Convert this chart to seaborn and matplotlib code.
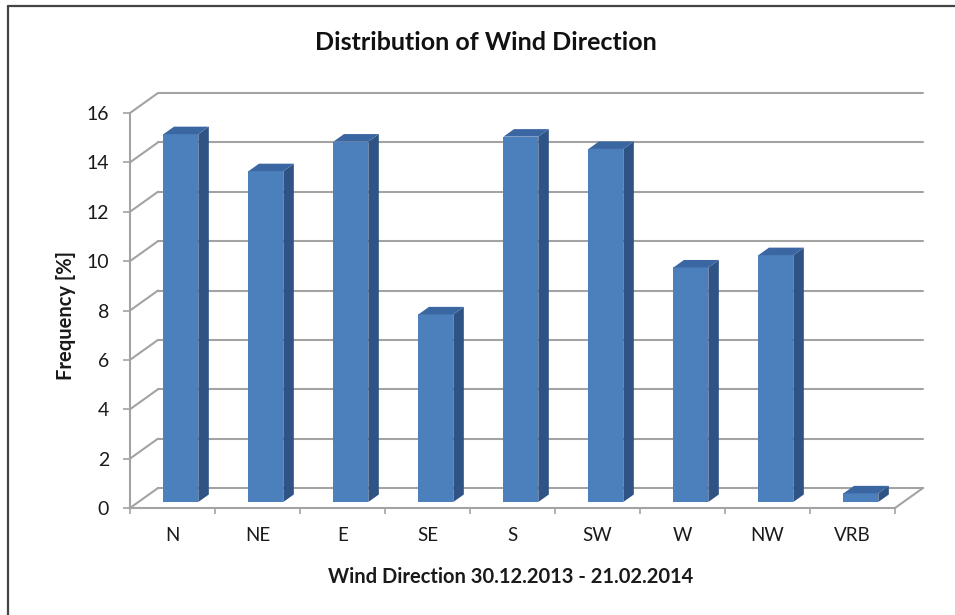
import matplotlib
matplotlib.use("Agg")
import matplotlib.pyplot as plt
import seaborn as sns
import pandas as pd
from matplotlib.patches import Polygon
from matplotlib.lines import Line2D

# ---- data ----
directions = ["N", "NE", "E", "SE", "S", "SW", "W", "NW", "VRB"]
frequency = [14.9, 13.4, 14.6, 7.6, 14.8, 14.3, 9.5, 10.0, 0.35]
y_ticks = [0, 2, 4, 6, 8, 10, 12, 14, 16]
title_text = "Distribution of Wind Direction"
x_label = "Wind Direction 30.12.2013 - 21.02.2014"
y_label = "Frequency [%]"

sns.set_theme(style="white")
plt.rcParams["font.family"] = ["Lato", "DejaVu Sans"]

W, H = 955, 615
fig = plt.figure(figsize=(W / 100, H / 100), dpi=100)
fig.patch.set_facecolor("white")

ax_l, ax_r, ax_b, ax_t = 130, 895, 508, 113  # pixel positions of front plane
ax = fig.add_axes([ax_l / W, (H - ax_b) / H, (ax_r - ax_l) / W, (ax_b - ax_t) / H])
ax.set_facecolor("none")

df = pd.DataFrame({"direction": directions, "frequency": frequency})
sns.barplot(data=df, x="direction", y="frequency", color="#4C80BD",
            saturation=1, width=0.41, ax=ax, zorder=3, linewidth=0)

ax.set_xlim(-0.5, len(directions) - 0.5)
ax.set_ylim(y_ticks[0], y_ticks[-1])

# pixel -> data conversions
px_x = (ax_r - ax_l) / len(directions)
px_y = (ax_b - ax_t) / (y_ticks[-1] - y_ticks[0])
dxb, dyb = 28 / px_x, 20 / px_y          # back wall depth
fx, fy = 0.3 * dxb, 0.3 * dyb           # bar front plane
ddx, ddy = 10.5 / px_x, 7.5 / px_y      # bar depth

grid_c = "#a3a3a3"
x0a, x1a = -0.5, len(directions) - 0.5

# back wall gridlines + left wall diagonals
for v in y_ticks:
    ax.add_line(Line2D([x0a + dxb, x1a + dxb], [v + dyb, v + dyb], color=grid_c,
                       lw=1.5, zorder=1, clip_on=False))
    ax.add_line(Line2D([x0a, x0a + dxb], [v, v + dyb], color=grid_c,
                       lw=1.5, zorder=1, clip_on=False))
# floor right edge
ax.add_line(Line2D([x1a, x1a + dxb], [0, dyb], color=grid_c, lw=1.5, zorder=1, clip_on=False))

# 3D bars
side_c, top_c = "#2E5384", "#3A66A2"
for p in ax.patches:
    p.set_x(p.get_x() + fx)
    p.set_y(p.get_y() + fy)
    p.set_clip_on(False)
    x0, y0, w, h = p.get_x(), p.get_y(), p.get_width(), p.get_height()
    side = Polygon([(x0 + w, y0), (x0 + w + ddx, y0 + ddy), (x0 + w + ddx, y0 + h + ddy),
                    (x0 + w, y0 + h)], closed=True, facecolor=side_c, edgecolor="none",
                   zorder=3, clip_on=False)
    top = Polygon([(x0, y0 + h), (x0 + ddx, y0 + h + ddy), (x0 + w + ddx, y0 + h + ddy),
                   (x0 + w, y0 + h)], closed=True, facecolor=top_c, edgecolor="none",
                  zorder=3, clip_on=False)
    ax.add_patch(side)
    ax.add_patch(top)

# spines
for s in ["top", "right"]:
    ax.spines[s].set_visible(False)
for s in ["left", "bottom"]:
    ax.spines[s].set_color(grid_c)
    ax.spines[s].set_linewidth(1.5)

# ticks
ax.set_yticks(y_ticks)
ax.set_yticklabels([str(v) for v in y_ticks])
ax.set_xticks([i - 0.5 for i in range(len(directions) + 1)])
ax.set_xticklabels([""] * (len(directions) + 1))
ax.set_xticks(range(len(directions)), minor=True)
ax.set_xticklabels(directions, minor=True)
ax.tick_params(axis="y", left=True, length=5, width=1.2, color=grid_c, pad=10,
               labelsize=14, labelcolor="#1a1a1a")
ax.tick_params(axis="x", which="major", bottom=True, length=4.5, width=1.2, color=grid_c)
ax.tick_params(axis="x", which="minor", bottom=True, length=0, pad=14,
               labelsize=13.5, labelcolor="#1a1a1a")

ax.set_xlabel(x_label, fontsize=14.5, fontweight="bold", color="#1a1a1a")
ax.xaxis.set_label_coords((511 - ax_l) / (ax_r - ax_l), -(577 - ax_b) / (ax_b - ax_t))
ax.xaxis.label.set_va("center")
ax.set_ylabel(y_label, fontsize=14.5, fontweight="bold", color="#1a1a1a")
ax.yaxis.set_label_coords(-(ax_l - 66) / (ax_r - ax_l), (ax_b - 316) / (ax_b - ax_t))
ax.yaxis.label.set_va("center")

fig.text(486 / W, 1 - 42 / H, title_text, ha="center", va="center",
         fontsize=18, fontweight="bold", color="#111111")

# outer border (top & left visible)
fig.add_artist(Line2D([8 / W, 1], [1 - 6 / H, 1 - 6 / H], transform=fig.transFigure,
                      color="#444444", lw=1.6))
fig.add_artist(Line2D([8 / W, 8 / W], [0, 1 - 6 / H], transform=fig.transFigure,
                      color="#444444", lw=1.6))

fig.savefig("out.png", dpi=100, facecolor="white")
